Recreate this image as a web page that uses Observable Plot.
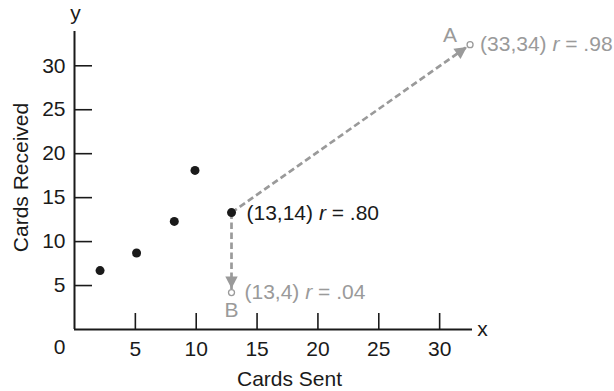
<!DOCTYPE html>
<html>
<head>
<meta charset="utf-8">
<script src="https://cdn.jsdelivr.net/npm/d3@7"></script>
<script src="https://cdn.jsdelivr.net/npm/@observablehq/plot@0.6"></script>
<style>
  html, body { margin: 0; padding: 0; background: #fff; }
  #chart { width: 614px; height: 391px; }
</style>
</head>
<body>
<div id="chart"></div>
<script>
// ---- data ----
const cardsSent     = [2.1, 5.1, 8.2, 9.9, 12.9];
const cardsReceived = [6.7, 8.7, 12.3, 18.1, 13.3];
const movedNames  = ["A", "B"];
const movedSent   = [32.5, 12.9];
const movedRecv   = [32.4, 4.2];
const movedLabels = ["(33,34) r = .98", "(13,4) r = .04"];
const pivotLabel  = "(13,14) r = .80";
const xTicks = [5, 10, 15, 20, 25, 30];
const yTicks = [5, 10, 15, 20, 25, 30];
const xMax = 32.7, yMax = 33.9;
const xTitle = "Cards Sent", yTitle = "Cards Received";

// ---- tables built from the arrays ----
const points = cardsSent.map((x, i) => ({x, y: cardsReceived[i]}));
const pivot = points[points.length - 1];
const moved = movedNames.map((name, i) => ({name, x: movedSent[i], y: movedRecv[i], label: movedLabels[i]}));
const movedA = moved.filter(d => d.name === "A");
const movedB = moved.filter(d => d.name === "B");
const arrows = moved.map(m => ({x1: pivot.x, y1: pivot.y, x2: m.x, y2: m.y}));

const GRAY = "#9a9a9a", INK = "#1a1a1a", FS = 21;

function headMarker(color, context) {
  const ns = "http://www.w3.org/2000/svg";
  const doc = (context && context.document) || document;
  const m = doc.createElementNS(ns, "marker");
  m.setAttribute("viewBox", "-20 -10 20 20");
  m.setAttribute("refX", 0); m.setAttribute("refY", 0);
  m.setAttribute("markerWidth", 20); m.setAttribute("markerHeight", 20);
  m.setAttribute("markerUnits", "userSpaceOnUse");
  m.setAttribute("orient", "auto");
  m.setAttribute("overflow", "visible");
  m.setAttribute("stroke-dasharray", "none");
  const p = doc.createElementNS(ns, "path");
  p.setAttribute("d", "M-4,0L-16,-6.2L-16,6.2Z");
  p.setAttribute("fill", GRAY);
  p.setAttribute("stroke", "none");
  p.setAttribute("stroke-dasharray", "none");
  m.appendChild(p);
  return m;
}

function build(marker) {
  return Plot.plot({
    width: 614, height: 391,
    marginLeft: 74, marginRight: 142, marginTop: 31, marginBottom: 62,
    style: {fontFamily: "'Liberation Sans', Arial, Helvetica, sans-serif", fontSize: FS + "px", color: INK, background: "#fff", overflow: "visible"},
    x: {domain: [0, xMax]},
    y: {domain: [0, yMax]},
    marks: [
      // axis lines
      Plot.ruleY([0], {x1: 0, x2: xMax, stroke: INK, strokeWidth: 2}),
      Plot.ruleX([0], {y1: 0, y2: yMax, stroke: INK, strokeWidth: 2}),
      // inward ticks
      Plot.tickX(xTicks, {x: d => d, stroke: INK, strokeWidth: 1.6, insetTop: 298 - 16}),
      Plot.tickY(yTicks, {y: d => d, stroke: INK, strokeWidth: 1.6, insetRight: 398 - 18}),
      // tick labels
      Plot.axisX({ticks: xTicks, tickSize: 0, tickPadding: 12, label: null, fontSize: FS}),
      Plot.axisY({ticks: yTicks, tickSize: 0, tickPadding: 9, label: null, fontSize: FS}),
      Plot.text(["0"], {x: 0, y: 0, dx: -15, dy: 18, fontSize: FS, fill: INK}),
      // axis letters and titles
      Plot.text(["x"], {frameAnchor: "bottom-right", textAnchor: "middle", lineAnchor: "middle", dx: 10, dy: 0, fontSize: FS, fill: INK}),
      Plot.text(["y"], {frameAnchor: "top-left", textAnchor: "middle", lineAnchor: "middle", dx: 1, dy: -18, fontSize: FS, fill: INK}),
      Plot.text([xTitle], {frameAnchor: "bottom", textAnchor: "middle", lineAnchor: "middle", dx: 16, dy: 50, fontSize: FS, fill: INK}),
      Plot.text([yTitle], {frameAnchor: "left", textAnchor: "middle", lineAnchor: "middle", rotate: -90, dx: -53, dy: -3, fontSize: FS, fill: INK}),
      // dashed arrows
      Plot.link(arrows, {x1: "x1", y1: "y1", x2: "x2", y2: "y2", stroke: GRAY, strokeWidth: 2.7, strokeDasharray: "6.5,3.5", markerEnd: marker}),
      // points
      Plot.dot(points, {x: "x", y: "y", r: 4.5, fill: INK}),
      Plot.dot(moved, {x: "x", y: "y", r: 3, fill: "#fff", stroke: GRAY, strokeWidth: 1.3}),
      // labels
      Plot.text([pivot], {x: "x", y: "y", text: () => pivotLabel, textAnchor: "start", dx: 15, dy: 1, fontSize: FS, fill: INK}),
      Plot.text(movedA, {x: "x", y: "y", text: "label", textAnchor: "start", dx: 10, dy: 0, fontSize: FS, fill: GRAY}),
      Plot.text(movedB, {x: "x", y: "y", text: "label", textAnchor: "start", dx: 13, dy: 0, fontSize: FS, fill: GRAY}),
      Plot.text(movedA, {x: "x", y: "y", text: "name", dx: -20, dy: -9, fontSize: FS, fill: GRAY}),
      Plot.text(movedB, {x: "x", y: "y", text: "name", dy: 18, fontSize: FS, fill: GRAY})
    ]
  });
}

let chart;
try { chart = build(headMarker); } catch (e) { chart = build("arrow"); }

// italicize the "r" in the correlation labels
d3.select(chart).selectAll("text").each(function () {
  const t = this.textContent;
  const m = t.match(/^(.*\) )r( = .*)$/);
  if (!m || this.querySelector("tspan")) return;
  const sel = d3.select(this);
  sel.text(null);
  sel.append("tspan").text(m[1]);
  sel.append("tspan").attr("font-style", "italic").text("r");
  sel.append("tspan").text(m[2]);
});

document.getElementById("chart").appendChild(chart);
</script>
</body>
</html>
